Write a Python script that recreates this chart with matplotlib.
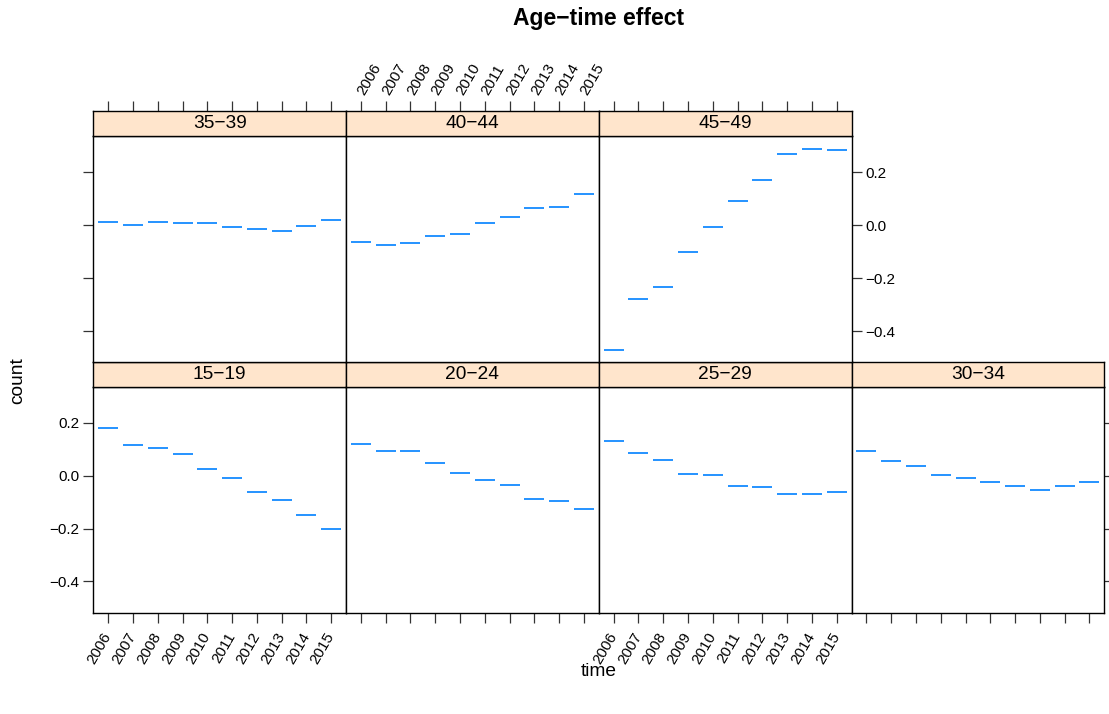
import numpy as np
import matplotlib
matplotlib.use('Agg')
import matplotlib.pyplot as plt

plt.rcParams['font.family'] = ['Liberation Sans', 'DejaVu Sans']

#%% Datos
anios = ['2006', '2007', '2008', '2009', '2010',
         '2011', '2012', '2013', '2014', '2015']

g15_19 = [0.180, 0.116, 0.105, 0.082, 0.026, -0.009, -0.062, -0.091, -0.149, -0.202]
g20_24 = [0.121, 0.093, 0.093, 0.049, 0.010, -0.018, -0.037, -0.087, -0.095, -0.126]
g25_29 = [0.130, 0.085, 0.058, 0.008, 0.001, -0.038, -0.044, -0.069, -0.068, -0.062]
g30_34 = [0.093, 0.057, 0.037, 0.003, -0.009, -0.025, -0.039, -0.053, -0.038, -0.023]
g35_39 = [0.010, 0.000, 0.011, 0.006, 0.009, -0.008, -0.015, -0.022, -0.003, 0.020]
g40_44 = [-0.063, -0.074, -0.069, -0.043, -0.032, 0.008, 0.030, 0.065, 0.069, 0.116]
g45_49 = [-0.471, -0.278, -0.235, -0.102, -0.008, 0.091, 0.170, 0.267, 0.286, 0.282]

# (nombre, datos, fila, columna) fila 0 = arriba
paneles = [('15\u221219', g15_19, 1, 0), ('20\u221224', g20_24, 1, 1),
           ('25\u221229', g25_29, 1, 2), ('30\u221234', g30_34, 1, 3),
           ('35\u221239', g35_39, 0, 0), ('40\u221244', g40_44, 0, 1),
           ('45\u221249', g45_49, 0, 2)]

yticks = [-0.4, -0.2, 0.0, 0.2]
ytlabels = ['\u22120.4', '\u22120.2', '0.0', '0.2']

#%% Geometría (pixeles)
W, H = 1109, 714
x0, pw = 93.3, 252.75
filas = {0: (111.0, 136.0, 362.3), 1: (362.3, 387.0, 612.5)}
strip_col = '#ffe5cc'
punto_col = '#0080ff'
fs_strip = 13.8
fs_tick = 11.0
tlen = 7.0


def caja(xa, ya, xb, yb):
    # convierte coordenadas en px (origen arriba-izq) a fracción de figura
    return [xa / W, 1 - yb / H, (xb - xa) / W, (yb - ya) / H]


fig = plt.figure(figsize=(W / 100, H / 100), dpi=100)
x = np.arange(1, len(anios) + 1)

for nombre, datos, fila, col in paneles:
    ys, yp, yb = filas[fila]
    xa = x0 + col * pw
    xb = xa + pw

    ax = fig.add_axes(caja(xa, yp, xb, yb))
    ax.plot(x, datos, ls='none', marker='_', ms=15, mew=1.2, color=punto_col)
    ax.set_xlim(0.4, 10.6)
    ax.set_ylim(-0.518, 0.336)
    for s in ax.spines.values():
        s.set_linewidth(1.0)
    ax.tick_params(direction='out', length=tlen, width=0.9, colors='#333333',
                   labelcolor='black', labelsize=fs_tick)
    ax.set_xticks(x)
    ax.set_yticks(yticks)

    # eje x inferior sólo en la fila de abajo
    if fila == 1:
        ax.tick_params(axis='x', bottom=True, top=False, pad=8)
        if col in (0, 2):
            ax.set_xticklabels(anios, rotation=60, ha='right', va='center',
                               rotation_mode='anchor')
        else:
            ax.set_xticklabels([])
    else:
        ax.tick_params(axis='x', bottom=False, top=False,
                       labelbottom=False)

    # eje y: alterna izquierda/derecha
    ax.tick_params(axis='y', left=False, right=False,
                   labelleft=False, labelright=False)
    if col == 0:
        ax.tick_params(axis='y', left=True, labelleft=(fila == 1), pad=3)
        if fila == 1:
            ax.set_yticklabels(ytlabels)
    if (fila == 1 and col == 3) or (fila == 0 and col == 2):
        ax.tick_params(axis='y', right=True, labelright=(fila == 0), pad=3)
        if fila == 0:
            ax.set_yticklabels(ytlabels)

    # tira con el nombre del grupo
    st = fig.add_axes(caja(xa, ys, xb, yp))
    st.set_facecolor(strip_col)
    st.set_xlim(0.4, 10.6)
    st.set_ylim(0, 1)
    st.set_yticks([])
    for s in st.spines.values():
        s.set_linewidth(1.0)
    st.text(0.5, 0.5, nombre, transform=st.transAxes, ha='center',
            va='center', fontsize=fs_strip)
    if fila == 0:
        st.xaxis.set_ticks_position('top')
        st.set_xticks(x)
        st.tick_params(axis='x', direction='out', length=tlen, width=0.9,
                       colors='#333333', labelcolor='black',
                       labelsize=fs_tick, pad=5)
        if col == 1:
            st.set_xticklabels(anios, rotation=60, ha='left', va='center',
                               rotation_mode='anchor')
        else:
            st.set_xticklabels([])
    else:
        st.set_xticks([])

fig.text((x0 + 2 * pw) / W, 1 - 18 / H, 'Age\u2212time effect', ha='center',
         va='center', fontsize=16.5, fontweight='bold')
fig.text((x0 + 2 * pw) / W, 1 - 671 / H, 'time', ha='center', va='center',
         fontsize=fs_strip)
fig.text(18 / W, 1 - 381 / H, 'count', ha='center', va='center',
         rotation=90, fontsize=fs_strip)

fig.savefig('out.png', dpi=100)
